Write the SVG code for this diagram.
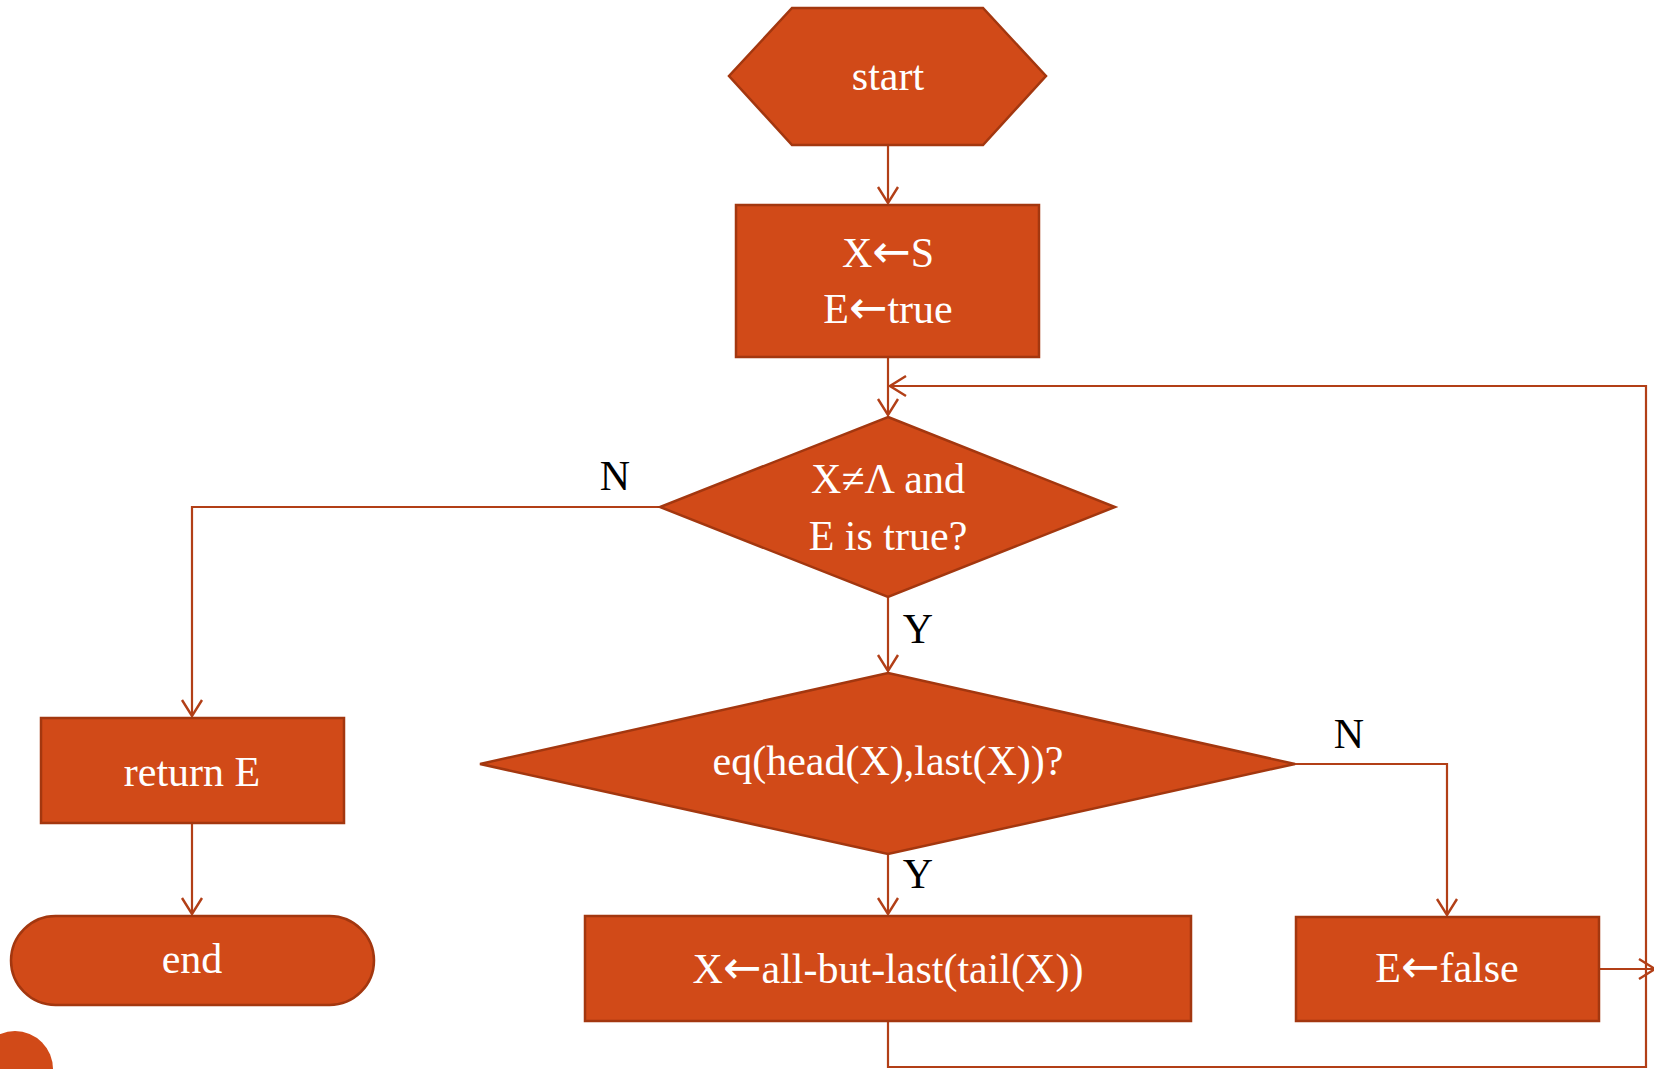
<svg xmlns="http://www.w3.org/2000/svg" width="1654" height="1069" viewBox="0 0 1654 1069">
  <style>
    .shape { fill: #D14A18; stroke: #A3370F; stroke-width: 2.5; }
    .txt { font-family: "Liberation Serif", "Times New Roman", serif; font-size: 42px; fill: #FFFFFF; text-anchor: middle; }
    .lbl { font-family: "Liberation Serif", "Times New Roman", serif; font-size: 42px; fill: #000000; text-anchor: middle; }
    .ar { font-family: "DejaVu Sans", sans-serif; font-size: 46px; }
    .conn { fill: none; stroke: #B23F17; stroke-width: 2.2; }
  </style>
  <defs>
    <marker id="arr" viewBox="0 0 20 24" refX="18" refY="12" markerWidth="20" markerHeight="24" markerUnits="userSpaceOnUse" orient="auto">
      <path d="M2,2 L18,12 L2,22" fill="none" stroke="#B23F17" stroke-width="2.4"/>
    </marker>
  </defs>

  <rect width="1654" height="1069" fill="#FFFFFF"/>

  <g id="connectors">
    <path class="conn" d="M888,145 L888,203" marker-end="url(#arr)"/>
    <path class="conn" d="M888,357 L888,415" marker-end="url(#arr)"/>
    <path class="conn" d="M660,507 L192,507 L192,716" marker-end="url(#arr)"/>
    <path class="conn" d="M192,823 L192,914" marker-end="url(#arr)"/>
    <path class="conn" d="M888,597 L888,671" marker-end="url(#arr)"/>
    <path class="conn" d="M1295,764 L1447,764 L1447,915" marker-end="url(#arr)"/>
    <path class="conn" d="M888,854 L888,914" marker-end="url(#arr)"/>
    <path class="conn" d="M888,1021 L888,1067 L1646,1067 L1646,386 L890,386" marker-end="url(#arr)"/>
    <path class="conn" d="M1599,969 L1655,969" marker-end="url(#arr)"/>
  </g>

  <g id="start">
    <polygon class="shape" points="792,8 983,8 1046,76 983,145 792,145 729,76"/>
    <text class="txt" x="888" y="90">start</text>
  </g>

  <g id="init">
    <rect class="shape" x="736" y="205" width="303" height="152"/>
    <text class="txt" x="888" y="267">X<tspan class="ar">←</tspan>S</text>
    <text class="txt" x="888" y="323">E<tspan class="ar">←</tspan>true</text>
  </g>

  <g id="cond1">
    <polygon class="shape" points="888,417 1115,507 888,597 660,507"/>
    <text class="txt" x="888" y="493">X≠Λ and</text>
    <text class="txt" x="888" y="550">E is true?</text>
  </g>

  <g id="cond2">
    <polygon class="shape" points="888,673 1295,764 888,854 480,764"/>
    <text class="txt" x="888" y="775">eq(head(X),last(X))?</text>
  </g>

  <g id="returnE">
    <rect class="shape" x="41" y="718" width="303" height="105"/>
    <text class="txt" x="192" y="786">return E</text>
  </g>

  <g id="end">
    <rect class="shape" x="11" y="916" width="363" height="89" rx="44.5" ry="44.5"/>
    <text class="txt" x="192" y="973">end</text>
  </g>

  <g id="shrink">
    <rect class="shape" x="585" y="916" width="606" height="105"/>
    <text class="txt" x="888" y="983">X<tspan class="ar">←</tspan>all-but-last(tail(X))</text>
  </g>

  <g id="setfalse">
    <rect class="shape" x="1296" y="917" width="303" height="104"/>
    <text class="txt" x="1447" y="982">E<tspan class="ar">←</tspan>false</text>
  </g>

  <g id="labels">
    <text class="lbl" x="615" y="490">N</text>
    <text class="lbl" x="918" y="643">Y</text>
    <text class="lbl" x="1349" y="748">N</text>
    <text class="lbl" x="918" y="888">Y</text>
  </g>

  <g id="corner">
    <circle cx="15" cy="1069" r="38" fill="#D14A18"/>
  </g>
</svg>
